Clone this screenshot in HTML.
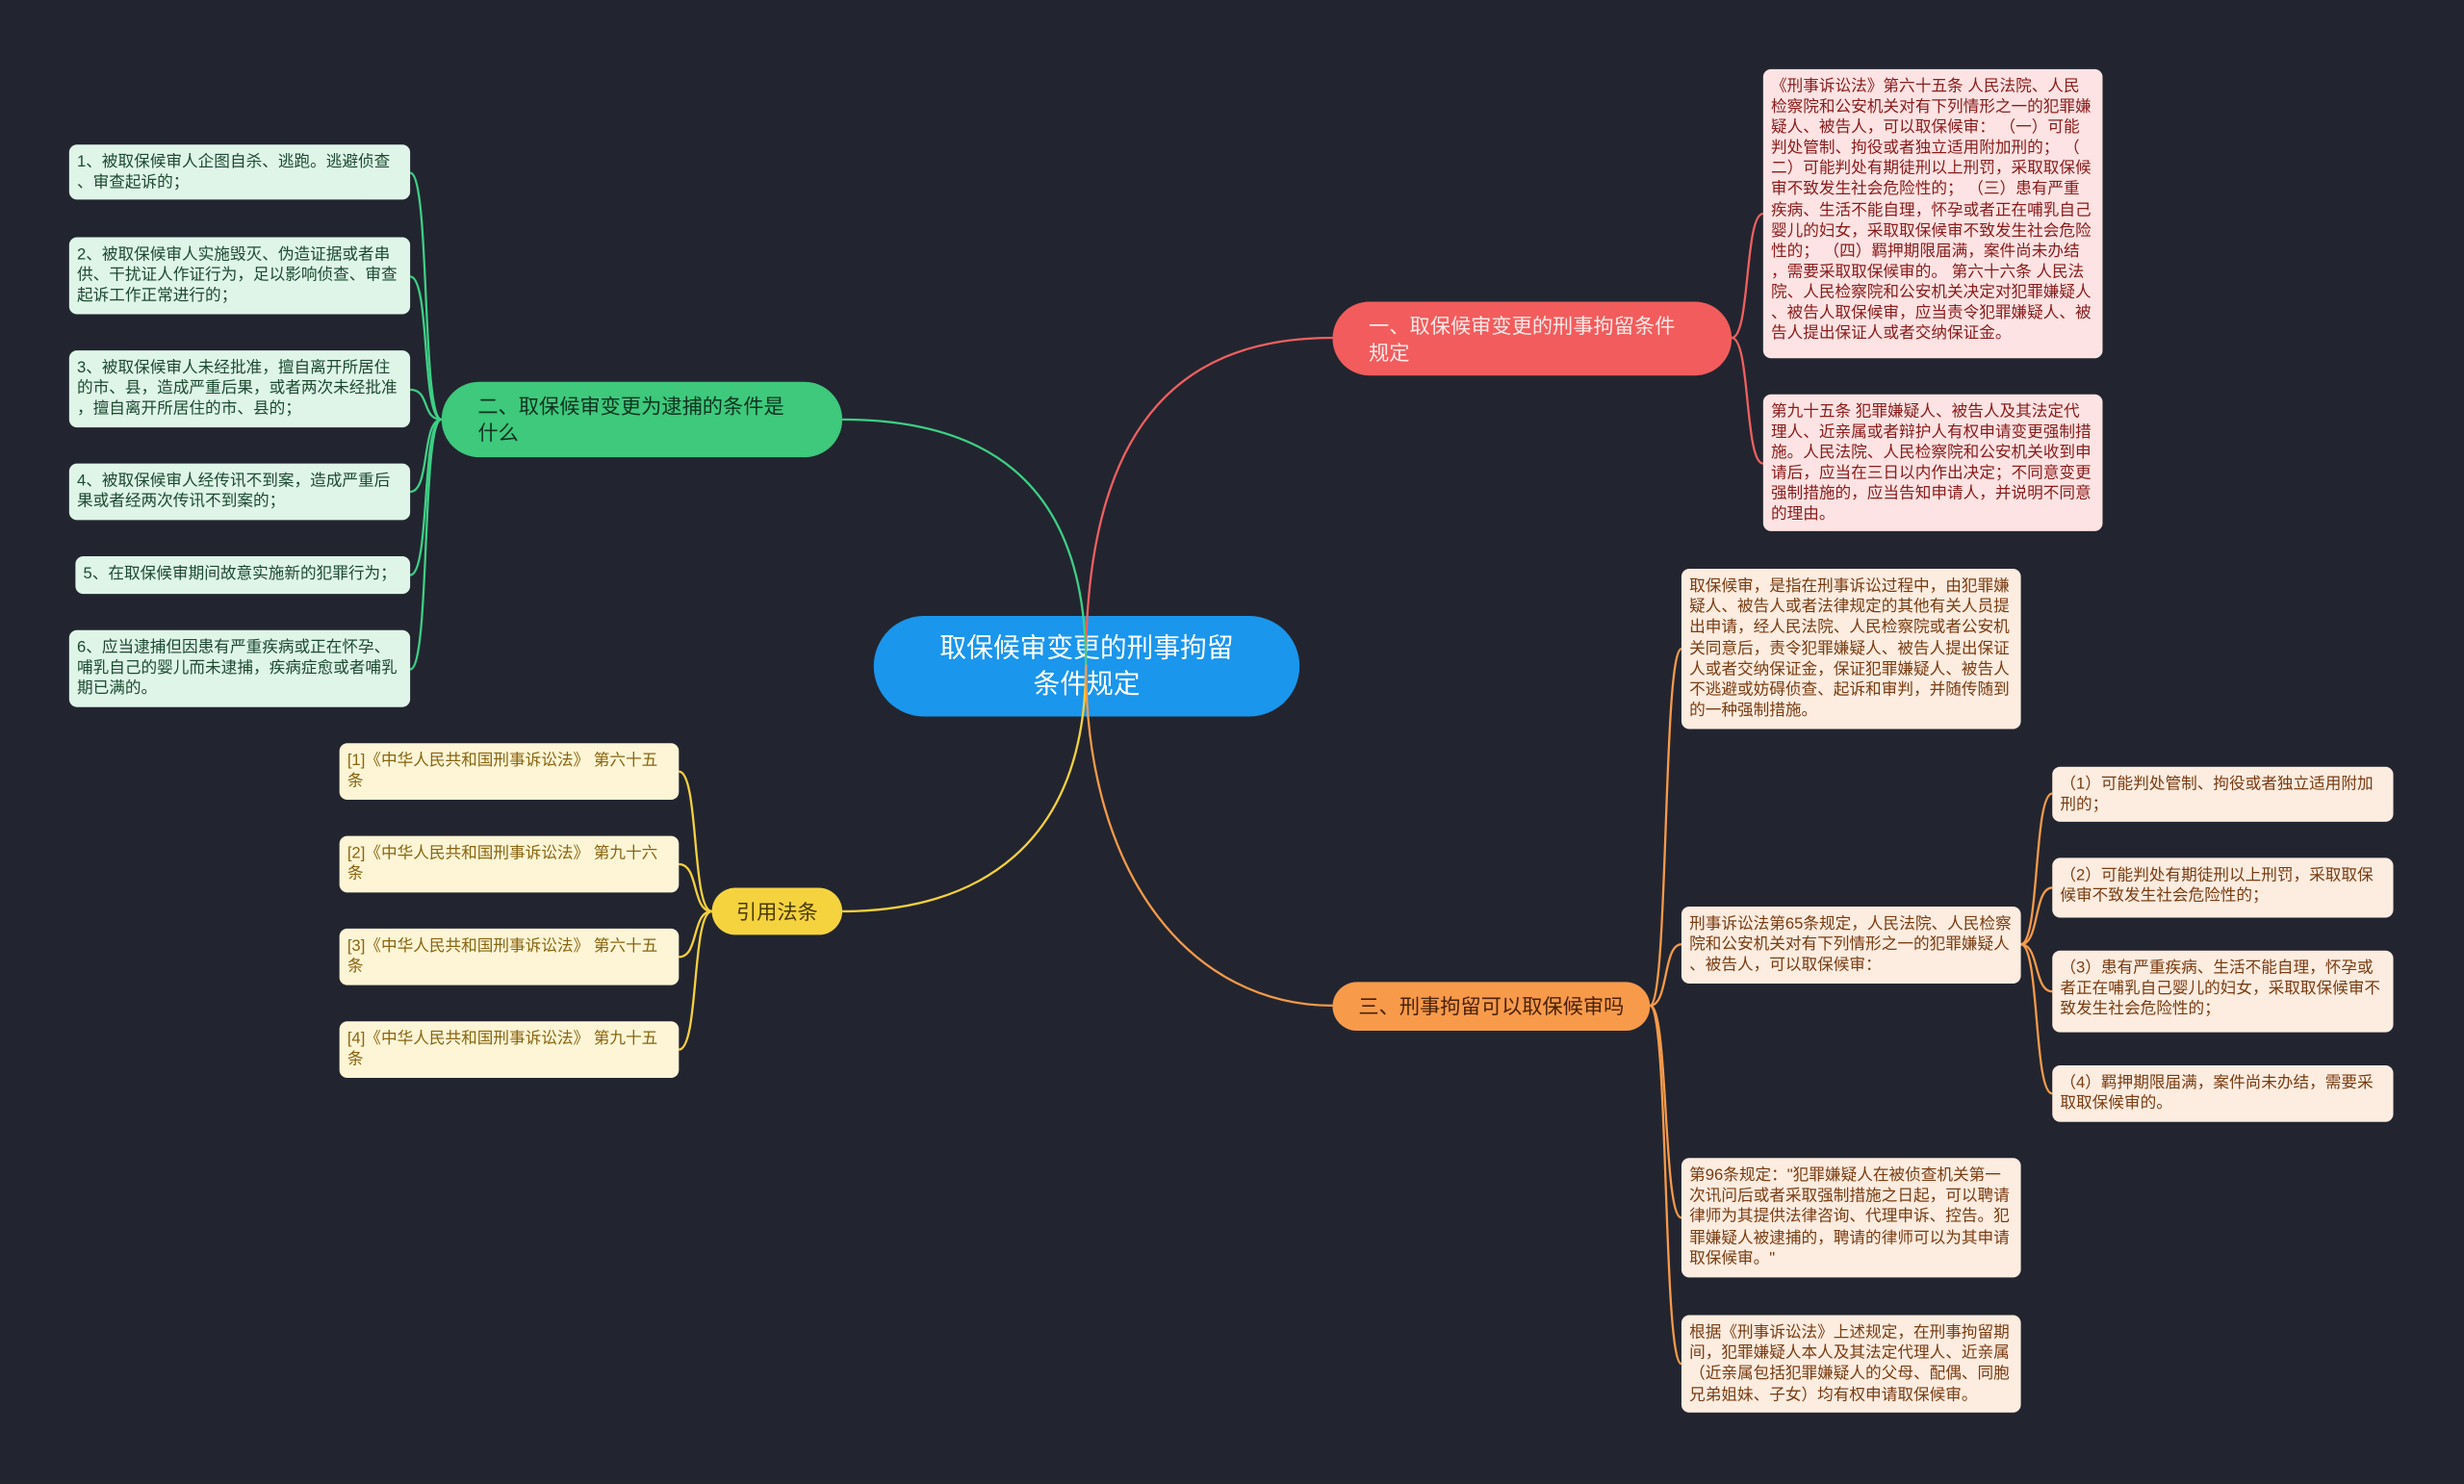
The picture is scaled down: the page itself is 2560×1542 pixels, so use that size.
<!DOCTYPE html>
<html><head><meta charset="utf-8"><style>
html,body{margin:0;padding:0;background:#22252f;}
#w{width:1568px;height:944px;position:relative;transform:scale(1.632653);transform-origin:0 0;background:#22252f;font-family:"Liberation Sans","Noto Sans CJK SC",sans-serif;overflow:hidden}
.n{position:absolute;box-sizing:border-box;border-radius:5px;font-size:10.2px;line-height:13.2px;padding:5px 4px 4px 5px;word-break:break-all;line-break:anywhere}
.p{background:#fde3e3;color:#8b1c1c;padding-right:6px;line-height:13.1px}
.g{background:#def5e8;color:#1d4a30}
.y{background:#fdf5d6;color:#8a6410}
.o{background:#fdece0;color:#7a3c12}
.m{position:absolute;box-sizing:border-box;border-radius:24px;display:flex;align-items:center;font-size:13px;line-height:17px;padding:0 30px 0 23px;line-break:anywhere}
svg{position:absolute;left:0;top:0}
</style></head><body><div id="w">
<div class="m" style="left:556px;top:392px;width:271px;height:64px;background:#1a96ec;color:#fff;font-size:17px;line-height:23px;justify-content:center;text-align:center;border-radius:32px;padding:0 38px">取保候审变更的刑事拘留条件规定</div>
<svg width="1568" height="944" fill="none" stroke-width="1.4">
<path d="M691,423 C691,260 760,215 848,215" stroke="#f06060"/>
<path d="M691,423 C691,300 620,267 536,267" stroke="#3ecf85"/>
<path d="M691,423 C691,540 620,580 536,580" stroke="#f5d040"/>
<path d="M691,423 C691,560 760,640 848,640" stroke="#f79a4a"/>
<g stroke="#f06060"><path d="M1102,215 C1114,215 1110,136 1122,136"/><path d="M1102,215 C1114,215 1110,295 1122,295"/></g>
<g stroke="#3ecf85">
<path d="M281,267 C268,267 274,110 261,110"/><path d="M281,267 C268,267 274,176 261,176"/><path d="M281,267 C268,267 274,248 261,248"/><path d="M281,267 C268,267 274,313 261,313"/><path d="M281,267 C268,267 274,366 261,366"/><path d="M281,267 C268,267 274,426 261,426"/></g>
<g stroke="#f5d040">
<path d="M453,580 C440,580 445,491 432,491"/><path d="M453,580 C440,580 445,550 432,550"/><path d="M453,580 C440,580 445,609 432,609"/><path d="M453,580 C440,580 445,668 432,668"/></g>
<g stroke="#f79a4a">
<path d="M1050,640 C1062,640 1058,413 1070,413"/><path d="M1050,640 C1062,640 1058,601 1070,601"/><path d="M1050,640 C1062,640 1058,775 1070,775"/><path d="M1050,640 C1062,640 1058,868 1070,868"/>
<path d="M1286,601 C1298,601 1294,505 1306,505"/><path d="M1286,601 C1298,601 1294,565 1306,565"/><path d="M1286,601 C1298,601 1294,631 1306,631"/><path d="M1286,601 C1298,601 1294,696 1306,696"/></g>
</svg>
<div class="m" style="left:848px;top:192px;width:254px;height:47px;background:#f25c5c;color:#fde8e8;padding-right:34px">一、取保候审变更的刑事拘留条件规定</div>
<div class="m" style="left:281px;top:243px;width:255px;height:48px;background:#3ec97c;color:#10331f;padding-right:32px">二、取保候审变更为逮捕的条件是什么</div>
<div class="m" style="left:453px;top:565px;width:83px;height:30px;background:#f5d33f;color:#4a3a05;justify-content:center;padding:0">引用法条</div>
<div class="m" style="left:848px;top:625px;width:202px;height:31px;background:#f79a4a;color:#4a2208;justify-content:center;padding:0">三、刑事拘留可以取保候审吗</div>

<div class="n p" style="left:1122px;top:44px;width:216px;height:184px">《刑事诉讼法》第六十五条 人民法院、人民检察院和公安机关对有下列情形之一的犯罪嫌疑人、被告人，可以取保候审： （一）可能判处管制、拘役或者独立适用附加刑的； （二）可能判处有期徒刑以上刑罚，采取取保候审不致发生社会危险性的； （三）患有严重疾病、生活不能自理，怀孕或者正在哺乳自己婴儿的妇女，采取取保候审不致发生社会危险性的； （四）羁押期限届满，案件尚未办结，需要采取取保候审的。 第六十六条 人民法院、人民检察院和公安机关决定对犯罪嫌疑人、被告人取保候审，应当责令犯罪嫌疑人、被告人提出保证人或者交纳保证金。</div>
<div class="n p" style="left:1122px;top:251px;width:216px;height:87px">第九十五条 犯罪嫌疑人、被告人及其法定代理人、近亲属或者辩护人有权申请变更强制措施。人民法院、人民检察院和公安机关收到申请后，应当在三日以内作出决定；不同意变更强制措施的，应当告知申请人，并说明不同意的理由。</div>

<div class="n g" style="left:44px;top:92px;width:217px;height:35px">1、被取保候审人企图自杀、逃跑。逃避侦查、审查起诉的；</div>
<div class="n g" style="left:44px;top:151px;width:217px;height:49px">2、被取保候审人实施毁灭、伪造证据或者串供、干扰证人作证行为，足以影响侦查、审查起诉工作正常进行的；</div>
<div class="n g" style="left:44px;top:223px;width:217px;height:49px">3、被取保候审人未经批准，擅自离开所居住的市、县，造成严重后果，或者两次未经批准，擅自离开所居住的市、县的；</div>
<div class="n g" style="left:44px;top:295px;width:217px;height:36px">4、被取保候审人经传讯不到案，造成严重后果或者经两次传讯不到案的；</div>
<div class="n g" style="left:48px;top:354px;width:213px;height:24px">5、在取保候审期间故意实施新的犯罪行为；</div>
<div class="n g" style="left:44px;top:401px;width:217px;height:49px">6、应当逮捕但因患有严重疾病或正在怀孕、哺乳自己的婴儿而未逮捕，疾病症愈或者哺乳期已满的。</div>

<div class="n y" style="left:216px;top:473px;width:216px;height:36px">[1]《中华人民共和国刑事诉讼法》 第六十五条</div>
<div class="n y" style="left:216px;top:532px;width:216px;height:36px">[2]《中华人民共和国刑事诉讼法》 第九十六条</div>
<div class="n y" style="left:216px;top:591px;width:216px;height:36px">[3]《中华人民共和国刑事诉讼法》 第六十五条</div>
<div class="n y" style="left:216px;top:650px;width:216px;height:36px">[4]《中华人民共和国刑事诉讼法》 第九十五条</div>

<div class="n o" style="left:1070px;top:362px;width:216px;height:102px">取保候审，是指在刑事诉讼过程中，由犯罪嫌疑人、被告人或者法律规定的其他有关人员提出申请，经人民法院、人民检察院或者公安机关同意后，责令犯罪嫌疑人、被告人提出保证人或者交纳保证金，保证犯罪嫌疑人、被告人不逃避或妨碍侦查、起诉和审判，并随传随到的一种强制措施。</div>
<div class="n o" style="left:1070px;top:577px;width:216px;height:49px">刑事诉讼法第65条规定，人民法院、人民检察院和公安机关对有下列情形之一的犯罪嫌疑人、被告人，可以取保候审：</div>
<div class="n o" style="left:1070px;top:737px;width:216px;height:76px">第96条规定："犯罪嫌疑人在被侦查机关第一次讯问后或者采取强制措施之日起，可以聘请律师为其提供法律咨询、代理申诉、控告。犯罪嫌疑人被逮捕的，聘请的律师可以为其申请取保候审。"</div>
<div class="n o" style="left:1070px;top:837px;width:216px;height:62px">根据《刑事诉讼法》上述规定，在刑事拘留期间，犯罪嫌疑人本人及其法定代理人、近亲属（近亲属包括犯罪嫌疑人的父母、配偶、同胞兄弟姐妹、子女）均有权申请取保候审。</div>
<div class="n o" style="left:1306px;top:488px;width:217px;height:35px">（1）可能判处管制、拘役或者独立适用附加刑的；</div>
<div class="n o" style="left:1306px;top:546px;width:217px;height:38px">（2）可能判处有期徒刑以上刑罚，采取取保候审不致发生社会危险性的；</div>
<div class="n o" style="left:1306px;top:605px;width:217px;height:52px">（3）患有严重疾病、生活不能自理，怀孕或者正在哺乳自己婴儿的妇女，采取取保候审不致发生社会危险性的；</div>
<div class="n o" style="left:1306px;top:678px;width:217px;height:36px">（4）羁押期限届满，案件尚未办结，需要采取取保候审的。</div>
</div></body></html>
